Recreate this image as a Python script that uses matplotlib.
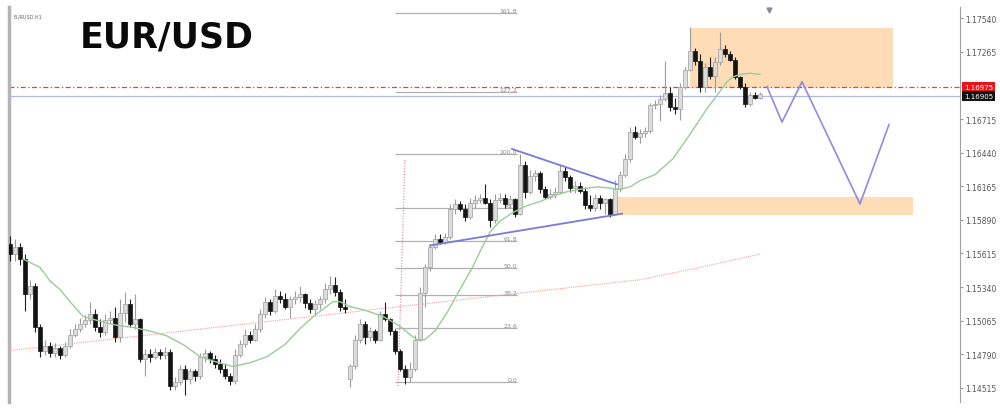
"""EUR/USD H1 chart with fib levels, triangle and projected zigzag."""

import matplotlib.pyplot as plt
import matplotlib.transforms as mtransforms
import numpy as np
from matplotlib.patches import Rectangle

# H1 candles (one entry per bar)
opens = [
    1.1569, 1.1561, 1.1567, 1.1557, 1.1528, 1.1535, 1.1501, 1.1482, 1.1486, 1.1480,
    1.1484, 1.1478, 1.1486, 1.1495, 1.1500, 1.1504, 1.1507, 1.1512, 1.1501, 1.1497,
    1.1507, 1.1509, 1.1493, 1.1513, 1.1520, 1.1504, 1.1508, 1.1475, 1.1479, 1.1477,
    1.1481, 1.1478, 1.1481, 1.1453, 1.1456, 1.1467, 1.1459, 1.1465, 1.1461, 1.1477,
    1.1480, 1.1475, 1.1471, 1.1467, 1.1461, 1.1457, 1.1478, 1.1487, 1.1495, 1.1491,
    1.1500, 1.1512, 1.1522, 1.1514, 1.1527, 1.1524, 1.1518, 1.1524, 1.1526, 1.1528,
    1.1521, 1.1516, 1.1520, 1.1524, 1.1532, 1.1536, 1.1530, 1.1518, 1.1459, 1.1469,
    1.1491, 1.1504, 1.1493, 1.1498, 1.1491, 1.1512, 1.1508, 1.1498, 1.1482, 1.1467,
    1.1460, 1.1467, 1.1491, 1.1529, 1.1550, 1.1567, 1.1573, 1.1571, 1.1575, 1.1598,
    1.1602, 1.1598, 1.1591, 1.1603, 1.1605, 1.1607, 1.1603, 1.1589, 1.1605, 1.1607,
    1.1602, 1.1606, 1.1594, 1.1634, 1.1612, 1.1625, 1.1627, 1.1614, 1.1608, 1.1610,
    1.1612, 1.1629, 1.1624, 1.1615, 1.1617, 1.1613, 1.1601, 1.1599, 1.1607, 1.1603,
    1.1606, 1.1594, 1.1614, 1.1626, 1.1639, 1.1661, 1.1657, 1.1660, 1.1662, 1.1683,
    1.1684, 1.1688, 1.1693, 1.1681, 1.1680, 1.1698, 1.1712, 1.1727, 1.1719, 1.1698,
    1.1714, 1.1707, 1.1718, 1.1729, 1.1725, 1.1720, 1.1706, 1.1698, 1.1684, 1.1691,
    1.1689,
]
highs = [
    1.1576, 1.1573, 1.1570, 1.1561, 1.1540, 1.1537, 1.1504, 1.1491, 1.1489, 1.1488,
    1.1486, 1.1489, 1.1500, 1.1504, 1.1509, 1.1511, 1.1522, 1.1516, 1.1508, 1.1512,
    1.1514, 1.1518, 1.1524, 1.1530, 1.1524, 1.1528, 1.1509, 1.1483, 1.1483, 1.1484,
    1.1483, 1.1485, 1.1483, 1.1460, 1.1470, 1.1470, 1.1468, 1.1467, 1.1480, 1.1483,
    1.1482, 1.1478, 1.1475, 1.1471, 1.1464, 1.1483, 1.1491, 1.1500, 1.1498, 1.1504,
    1.1516, 1.1526, 1.1524, 1.1532, 1.1531, 1.1529, 1.1527, 1.1531, 1.1535, 1.1529,
    1.1524, 1.1523, 1.1527, 1.1537, 1.1543, 1.1542, 1.1532, 1.1524, 1.1471, 1.1495,
    1.1508, 1.1506, 1.1501, 1.1500, 1.1514, 1.1522, 1.1509, 1.1500, 1.1483, 1.1470,
    1.1473, 1.1495, 1.1534, 1.1553, 1.1569, 1.1577, 1.1577, 1.1578, 1.1602, 1.1606,
    1.1604, 1.1602, 1.1607, 1.1609, 1.1610, 1.1618, 1.1606, 1.1610, 1.1611, 1.1610,
    1.1609, 1.1607, 1.1643, 1.1637, 1.1630, 1.1630, 1.1629, 1.1617, 1.1614, 1.1616,
    1.1634, 1.1632, 1.1626, 1.1621, 1.1620, 1.1616, 1.1609, 1.1610, 1.1609, 1.1607,
    1.1607, 1.1622, 1.1629, 1.1643, 1.1665, 1.1666, 1.1663, 1.1665, 1.1685, 1.1687,
    1.1691, 1.1719, 1.1698, 1.1689, 1.1701, 1.1714, 1.1747, 1.1730, 1.1725, 1.1717,
    1.1722, 1.1722, 1.1743, 1.1732, 1.1727, 1.1722, 1.1707, 1.1701, 1.1694, 1.1694,
    1.1694,
]
lows = [
    1.1555, 1.1555, 1.1552, 1.1514, 1.1524, 1.1497, 1.1477, 1.1478, 1.1477, 1.1477,
    1.1475, 1.1477, 1.1484, 1.1493, 1.1497, 1.1501, 1.1504, 1.1498, 1.1493, 1.1495,
    1.1504, 1.1489, 1.1489, 1.1505, 1.1501, 1.1500, 1.1473, 1.1461, 1.1473, 1.1475,
    1.1475, 1.1475, 1.1450, 1.1450, 1.1454, 1.1446, 1.1455, 1.1457, 1.1459, 1.1473,
    1.1472, 1.1468, 1.1464, 1.1459, 1.1454, 1.1455, 1.1477, 1.1485, 1.1488, 1.1490,
    1.1497, 1.1509, 1.1511, 1.1513, 1.1521, 1.1516, 1.1509, 1.1520, 1.1522, 1.1517,
    1.1513, 1.1511, 1.1516, 1.1521, 1.1528, 1.1527, 1.1514, 1.1513, 1.1452, 1.1467,
    1.1488, 1.1487, 1.1490, 1.1488, 1.1490, 1.1506, 1.1495, 1.1479, 1.1465, 1.1455,
    1.1456, 1.1465, 1.1490, 1.1518, 1.1547, 1.1565, 1.1569, 1.1569, 1.1573, 1.1594,
    1.1596, 1.1588, 1.1590, 1.1599, 1.1603, 1.1602, 1.1583, 1.1586, 1.1603, 1.1599,
    1.1599, 1.1591, 1.1593, 1.1607, 1.1610, 1.1621, 1.1611, 1.1606, 1.1606, 1.1607,
    1.1610, 1.1621, 1.1612, 1.1611, 1.1611, 1.1598, 1.1596, 1.1596, 1.1598, 1.1594,
    1.1591, 1.1593, 1.1612, 1.1624, 1.1636, 1.1655, 1.1652, 1.1657, 1.1660, 1.1680,
    1.1670, 1.1686, 1.1678, 1.1676, 1.1671, 1.1696, 1.1711, 1.1716, 1.1694, 1.1694,
    1.1704, 1.1694, 1.1716, 1.1722, 1.1719, 1.1704, 1.1696, 1.1681, 1.1682, 1.1688,
    1.1688,
]
closes = [
    1.1561, 1.1567, 1.1557, 1.1528, 1.1535, 1.1501, 1.1482, 1.1486, 1.1480, 1.1484,
    1.1478, 1.1486, 1.1495, 1.1500, 1.1504, 1.1507, 1.1512, 1.1501, 1.1497, 1.1507,
    1.1509, 1.1493, 1.1513, 1.1520, 1.1504, 1.1508, 1.1475, 1.1479, 1.1477, 1.1481,
    1.1478, 1.1481, 1.1453, 1.1456, 1.1467, 1.1459, 1.1465, 1.1461, 1.1477, 1.1480,
    1.1475, 1.1471, 1.1467, 1.1461, 1.1457, 1.1478, 1.1487, 1.1495, 1.1491, 1.1500,
    1.1512, 1.1522, 1.1514, 1.1527, 1.1524, 1.1518, 1.1524, 1.1526, 1.1528, 1.1521,
    1.1516, 1.1520, 1.1524, 1.1532, 1.1536, 1.1530, 1.1518, 1.1516, 1.1469, 1.1491,
    1.1504, 1.1493, 1.1498, 1.1491, 1.1512, 1.1508, 1.1498, 1.1482, 1.1467, 1.1460,
    1.1467, 1.1491, 1.1529, 1.1550, 1.1567, 1.1573, 1.1571, 1.1575, 1.1598, 1.1602,
    1.1598, 1.1591, 1.1603, 1.1605, 1.1607, 1.1603, 1.1589, 1.1605, 1.1607, 1.1602,
    1.1606, 1.1594, 1.1634, 1.1612, 1.1625, 1.1627, 1.1614, 1.1608, 1.1610, 1.1612,
    1.1629, 1.1624, 1.1615, 1.1617, 1.1613, 1.1601, 1.1599, 1.1607, 1.1603, 1.1606,
    1.1594, 1.1614, 1.1626, 1.1639, 1.1661, 1.1657, 1.1660, 1.1662, 1.1683, 1.1684,
    1.1688, 1.1693, 1.1681, 1.1680, 1.1698, 1.1712, 1.1727, 1.1719, 1.1698, 1.1714,
    1.1707, 1.1718, 1.1729, 1.1725, 1.1720, 1.1706, 1.1698, 1.1684, 1.1691, 1.1689,
    1.1692,
]

# moving averages (bar index, price) as traced on the chart
fast_ma_bars = [2.6, 6, 8, 10, 12, 14.6, 18, 21, 24.6, 28, 31.4, 35, 38, 41, 44.6,
                48, 51.4, 55, 58, 61, 64.6, 66, 68, 71, 74.6, 78, 80, 81.4, 83, 85,
                87.4, 90, 92.6, 94, 96, 98, 100.6, 103, 106, 109, 111.4, 114, 117.4,
                120, 122, 124, 126, 129, 132.6, 136, 139.4, 141.6, 143.4, 144.6, 146,
                148, 150]
fast_ma = [1.1557, 1.1550, 1.1539, 1.1532, 1.1522, 1.1510, 1.1506, 1.1503, 1.1501,
           1.1498, 1.1494, 1.1486, 1.1477, 1.1473, 1.1469, 1.1472, 1.1477, 1.1487,
           1.1500, 1.1511, 1.1522, 1.1522, 1.1518, 1.1515, 1.1510, 1.1502, 1.1495,
           1.1491, 1.1491, 1.1498, 1.1513, 1.1532, 1.1551, 1.1563, 1.1579, 1.1588,
           1.1595, 1.1600, 1.1604, 1.1609, 1.1612, 1.1614, 1.1616, 1.1615, 1.1614,
           1.1616, 1.1621, 1.1626, 1.1639, 1.1659, 1.1680, 1.1692, 1.1702, 1.1706,
           1.1708, 1.1709, 1.1708]
slow_ma_bars = [0, 78, 126, 138, 150]
slow_ma = [1.1482, 1.1518, 1.1540, 1.1550, 1.1561]

# fibonacci retracement
fib_low, fib_high = 1.14562, 1.16427
fib_ratios = [0.0, 0.236, 0.382, 0.5, 0.618, 0.764, 1.0, 1.272, 1.618]
fib_labels = ["0.0", "23.6", "38.2", "50.0", "61.8", "76.4", "100.0", "127.2", "161.8"]
fib_span = (77, 101.4)
fib_base_bars = [77.6, 79]
fib_base = [1.1453, 1.1639]

# triangle lines
tri_upper_bars, tri_upper = [100.4, 121.4], [1.1647, 1.1618]
tri_lower_bars, tri_lower = [84, 122.4], [1.1568, 1.1594]

# projected path
proj_bars = [151.4, 154.4, 158.4, 170, 175.8]
proj = [1.1698, 1.1669, 1.1702, 1.1602, 1.1667]

# supply / demand zones: (bar start, bar end, price low, price high)
zones = [(136, 176.6, 1.1697, 1.1746), (121.4, 180.6, 1.1593, 1.1608)]

ask_line, bid_line = 1.16975, 1.16905
price_ticks = [1.14515, 1.14790, 1.15065, 1.15340, 1.15615, 1.15890,
               1.16165, 1.16440, 1.16715, 1.17265, 1.17540]


def main() -> None:
    fig = plt.figure(figsize=(10, 4.1), dpi=100)
    ax = fig.add_axes([0.009, 0.017, 0.951, 0.963])

    o = np.array(opens)
    h = np.array(highs)
    lo = np.array(lows)
    c = np.array(closes)
    x = np.arange(len(c))
    up = c >= o

    for x0, x1, y0, y1 in zones:
        ax.add_patch(Rectangle((x0, y0), x1 - x0, y1 - y0, facecolor="#fddcb6",
                               edgecolor="none", zorder=1))

    # fib levels
    rng = fib_high - fib_low
    for r, lab in zip(fib_ratios, fib_labels):
        lvl = fib_low + r * rng
        ax.hlines(lvl, *fib_span, color="#b0b0b0", lw=0.9, zorder=2)
        ax.text(fib_span[1], lvl + 0.00004, lab, ha="right", va="bottom",
                fontsize=4.5, color="#8a8a8a", zorder=2)
    ax.plot(fib_base_bars, fib_base, color="#f08080", lw=0.8, ls=(0, (1, 1.5)), zorder=2)

    # full-width price lines
    ax.axhline(ask_line, color="#f03c3c", lw=0.9, ls=(0, (4, 2, 1, 2)), zorder=2)
    ax.axhline(bid_line, color="#b4bad6", lw=0.9, zorder=2)

    # moving averages
    ax.plot(slow_ma_bars, slow_ma, color="#f4a0a0", lw=0.8, ls=(0, (1, 1)), zorder=2)
    ax.plot(fast_ma_bars, fast_ma, color="#9acb9a", lw=1.0, zorder=5)

    # candles
    ax.vlines(x[up], lo[up], h[up], color="#9c9c9c", lw=0.8, zorder=3)
    ax.vlines(x[~up], lo[~up], h[~up], color="#202020", lw=0.8, zorder=3)
    ax.bar(x[up], c[up] - o[up], bottom=o[up], width=0.62, color="#dcdcdc",
           edgecolor="#9c9c9c", lw=0.5, zorder=4)
    ax.bar(x[~up], o[~up] - c[~up], bottom=c[~up], width=0.62, color="#141414",
           edgecolor="#141414", lw=0.5, zorder=4)

    # drawn lines
    ax.plot(tri_upper_bars, tri_upper, color="#7a7ad8", lw=1.3, zorder=6)
    ax.plot(tri_lower_bars, tri_lower, color="#7a7ad8", lw=1.3, zorder=6)
    ax.plot(proj_bars, proj, color="#8c8ce0", lw=1.2, zorder=6)
    ax.plot([151.8], [1.1761], marker="v", ms=3.5, color="#8a8a9a", zorder=6)

    ax.set_xlim(-0.2, 190)
    ax.set_ylim(1.14399, 1.17630)

    ax.yaxis.tick_right()
    ax.set_yticks(price_ticks)
    ax.set_yticklabels([f"{t:.5f}" for t in price_ticks])
    ax.tick_params(axis="y", labelsize=5.5, labelcolor="#555555", length=2,
                   color="#999999", pad=2)
    ax.set_xticks([])
    for s in ("top", "bottom"):
        ax.spines[s].set_visible(False)
    ax.spines["left"].set_color("#b4b4b4")
    ax.spines["left"].set_linewidth(2.5)
    ax.spines["right"].set_color("#a0a0a0")
    ax.spines["right"].set_linewidth(0.8)

    trans = mtransforms.blended_transform_factory(ax.transAxes, ax.transData)
    ax.text(1.004, ask_line, f"{ask_line:.5f}", transform=trans, fontsize=5,
            color="white", va="center", ha="left",
            bbox=dict(facecolor="#e8141a", edgecolor="none", pad=1.3))
    ax.text(1.004, bid_line - 0.00003, f"{bid_line:.5f}", transform=trans, fontsize=5,
            color="white", va="center", ha="left",
            bbox=dict(facecolor="#111111", edgecolor="none", pad=1.3))

    fig.text(0.013, 0.965, "EURUSD,H1", fontsize=3.5, color="#666666", va="top")
    fig.text(0.08, 0.95, "EUR/USD", fontsize=25, fontweight="bold", va="top",
             color="#0a0a0a")

    fig.savefig("out.png", dpi=100)


if __name__ == "__main__":
    main()
